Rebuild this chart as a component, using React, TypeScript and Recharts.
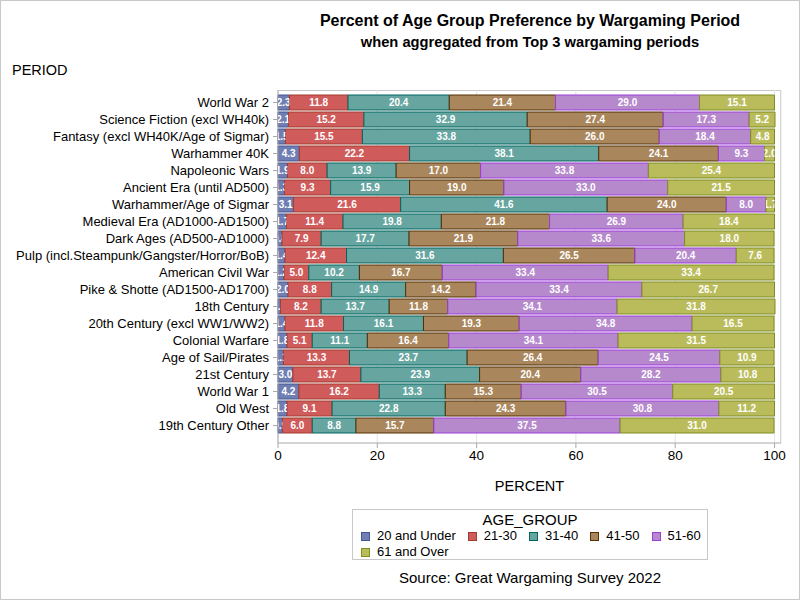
import { Bar, BarChart, CartesianGrid, LabelList, XAxis, YAxis } from 'recharts';

const periods = [
  'World War 2',
  'Science Fiction (excl WH40k)',
  'Fantasy (excl WH40K/Age of Sigmar)',
  'Warhammer 40K',
  'Napoleonic Wars',
  'Ancient Era (until AD500)',
  'Warhammer/Age of Sigmar',
  'Medieval Era (AD1000-AD1500)',
  'Dark Ages (AD500-AD1000)',
  'Pulp (incl.Steampunk/Gangster/Horror/BoB)',
  'American Civil War',
  'Pike & Shotte (AD1500-AD1700)',
  '18th Century',
  '20th Century (excl WW1/WW2)',
  'Colonial Warfare',
  'Age of Sail/Pirates',
  '21st Century',
  'World War 1',
  'Old West',
  '19th Century Other',
];

const under20 = [2.3, 2.1, 1.5, 4.3, 1.9, 1.3, 3.1, 1.7, 0.8, 1.4, 1.2, 2.0, 0.5, 1.4, 1.8, 1.1, 3.0, 4.2, 1.8, 0.9];
const age21to30 = [11.8, 15.2, 15.5, 22.2, 8.0, 9.3, 21.6, 11.4, 7.9, 12.4, 5.0, 8.8, 8.2, 11.8, 5.1, 13.3, 13.7, 16.2, 9.1, 6.0];
const age31to40 = [20.4, 32.9, 33.8, 38.1, 13.9, 15.9, 41.6, 19.8, 17.7, 31.6, 10.2, 14.9, 13.7, 16.1, 11.1, 23.7, 23.9, 13.3, 22.8, 8.8];
const age41to50 = [21.4, 27.4, 26.0, 24.1, 17.0, 19.0, 24.0, 21.8, 21.9, 26.5, 16.7, 14.2, 11.8, 19.3, 16.4, 26.4, 20.4, 15.3, 24.3, 15.7];
const age51to60 = [29.0, 17.3, 18.4, 9.3, 33.8, 33.0, 8.0, 26.9, 33.6, 20.4, 33.4, 33.4, 34.1, 34.8, 34.1, 24.5, 28.2, 30.5, 30.8, 37.5];
const over61 = [15.1, 5.2, 4.8, 2.0, 25.4, 21.5, 1.7, 18.4, 18.0, 7.6, 33.4, 26.7, 31.8, 16.5, 31.5, 10.9, 10.8, 20.5, 11.2, 31.0];

const xTicks = [0, 20, 40, 60, 80, 100];

const series = [
  { key: 'u20', name: '20 and Under', values: under20, fill: '#6F7EB3', stroke: '#445694' },
  { key: 'a21', name: '21-30', values: age21to30, fill: '#D05B5B', stroke: '#A23A2E' },
  { key: 'a31', name: '31-40', values: age31to40, fill: '#66A5A0', stroke: '#01665E' },
  { key: 'a41', name: '41-50', values: age41to50, fill: '#A9865B', stroke: '#543005' },
  { key: 'a51', name: '51-60', values: age51to60, fill: '#B689CD', stroke: '#9D3CDB' },
  { key: 'o61', name: '61 and Over', values: over61, fill: '#BABC5C', stroke: '#7F8E1F' },
];

const data = periods.map((period, i) => {
  const row: Record<string, string | number> = { period };
  series.forEach((s) => (row[s.key] = s.values[i]));
  return row;
});

const font = '"Liberation Sans", Arial, sans-serif';

// segment label, clipped to its own bar like the SAS output
const clippedLabel = (key: string) => (props: any) => {
  const { x, y, width, height, value, index } = props;
  const id = `clip-${key}-${index}`;
  return (
    <g>
      <clipPath id={id}>
        <rect x={x} y={y} width={width} height={height} />
      </clipPath>
      <text
        x={x + width / 2}
        y={y + height / 2 + 3.5}
        textAnchor="middle"
        fill="#fff"
        fontSize={10}
        fontWeight="bold"
        fontFamily={font}
        clipPath={`url(#${id})`}
      >
        {Number(value).toFixed(1)}
      </text>
    </g>
  );
};

// single-line category tick (no wrapping)
const PeriodTick = (props: any) => {
  const { x, y, payload } = props;
  return (
    <text x={x} y={y + 4.5} textAnchor="end" fill="#000" fontSize={13} fontFamily={font}>
      {payload.value}
    </text>
  );
};

const LegendRow = ({ items }: { items: typeof series }) => (
  <div style={{ display: 'flex', paddingLeft: 8, fontSize: 13, lineHeight: '16px', whiteSpace: 'nowrap' }}>
    {items.map((s) => (
      <div key={s.key} style={{ display: 'flex', alignItems: 'center', marginRight: 12 }}>
        <span style={{ width: 7, height: 7, background: s.fill, border: `1px solid ${s.stroke}`, marginRight: 7 }} />
        {s.name}
      </div>
    ))}
  </div>
);

export default function App() {
  return (
    <div style={{ position: 'absolute', left: 0, top: 0, width: 800, height: 600, fontFamily: font, background: '#fff' }}>
      <div style={{ position: 'absolute', inset: 0, border: '1px solid #c8c8c8', boxSizing: 'border-box' }} />
      <div style={{ position: 'absolute', top: 12, left: 260, width: 540, textAlign: 'center', fontSize: 16, fontWeight: 'bold' }}>
        Percent of Age Group Preference by Wargaming Period
      </div>
      <div style={{ position: 'absolute', top: 34, left: 260, width: 540, textAlign: 'center', fontSize: 14.7, fontWeight: 'bold' }}>
        when aggregated from Top 3 wargaming periods
      </div>
      <div style={{ position: 'absolute', top: 62, left: 12, fontSize: 14.5 }}>PERIOD</div>
      <div style={{ position: 'absolute', left: 278, top: 90, width: 503, height: 353, border: '1px solid #c8c8c8', borderLeft: 'none', borderBottom: 'none', boxSizing: 'border-box' }} />
      <BarChart
        width={800}
        height={600}
        data={data}
        layout="vertical"
        margin={{ top: 90, right: 19, bottom: 107, left: 0 }}
        barSize={15}
        style={{ position: 'absolute', left: 0, top: 0 }}
      >
        <CartesianGrid horizontal={false} stroke="#e4e4e4" />
        <XAxis
          type="number"
          domain={[0, 100]}
          ticks={xTicks}
          padding={{ left: 0, right: 6 }}
          height={50}
          tickSize={5}
          tick={{ fill: '#000', fontSize: 13.5, fontFamily: font }}
          stroke="#a8a8a8"
          label={{ value: 'PERCENT', position: 'insideBottom', offset: 2, fill: '#000', fontSize: 14.5, fontFamily: font }}
        />
        <YAxis
          type="category"
          dataKey="period"
          width={278}
          interval={0}
          tickSize={5}
          tickMargin={4}
          padding={{ top: 4, bottom: 9 }}
          tick={<PeriodTick />}
          stroke="#a8a8a8"
        />
        {series.map((s) => (
          <Bar key={s.key} dataKey={s.key} name={s.name} stackId="age" fill={s.fill} stroke={s.stroke} strokeWidth={1} isAnimationActive={false}>
            <LabelList dataKey={s.key} content={clippedLabel(s.key)} />
          </Bar>
        ))}
      </BarChart>
      <div style={{ position: 'absolute', left: 352, top: 509, width: 356, height: 51, border: '1px solid #c8c8c8', boxSizing: 'border-box' }}>
        <div style={{ textAlign: 'center', fontSize: 15, lineHeight: '17px', marginTop: 1 }}>AGE_GROUP</div>
        <LegendRow items={series.slice(0, 5)} />
        <LegendRow items={series.slice(5)} />
      </div>
      <div style={{ position: 'absolute', left: 260, width: 540, top: 569, textAlign: 'center', fontSize: 15 }}>
        Source: Great Wargaming Survey 2022
      </div>
    </div>
  );
}
